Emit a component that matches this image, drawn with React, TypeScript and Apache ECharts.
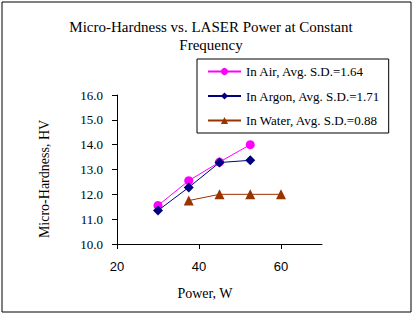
import React, { useEffect, useRef } from "react";
import * as echarts from "echarts";

const titleLines = ["Micro-Hardness vs. LASER Power at Constant", "Frequency"];
const xAxisTitle = "Power, W";
const yAxisTitle = "Micro-Hardness, HV";
const xTicks = [20, 40, 60];

const airName = "In Air, Avg. S.D.=1.64";
const airPower = [30, 37.5, 45, 52.5];
const airHardness = [11.55, 12.55, 13.3, 14.0];

const argonName = "In Argon, Avg. S.D.=1.71";
const argonPower = [30, 37.5, 45, 52.5];
const argonHardness = [11.35, 12.28, 13.28, 13.37];

const waterName = "In Water, Avg. S.D.=0.88";
const waterPower = [37.5, 45, 52.5, 60];
const waterHardness = [11.75, 12.0, 12.0, 12.0];

const pairs = (xs: number[], ys: number[]) => xs.map((x, i) => [x, ys[i]]);

const SERIF = "'Liberation Serif', 'Times New Roman', serif";
const SANS = "'Liberation Sans', Arial, sans-serif";

export default function App() {
  const ref = useRef<HTMLDivElement>(null);
  useEffect(() => {
    document.body.style.margin = "0";
    if (!ref.current) return;
    const chart = echarts.init(ref.current, undefined, { renderer: "svg" });
    chart.setOption({
      animation: false,
      backgroundColor: "#ffffff",
      title: {
        text: titleLines.join("\n"),
        left: 206,
        top: 13,
        textAlign: "center",
        textStyle: {
          fontFamily: SERIF,
          fontSize: 15,
          fontWeight: "normal",
          color: "#000000",
          lineHeight: 18,
        },
      },
      legend: {
        orient: "vertical",
        left: 197,
        top: 59,
        padding: [6, 8, 6, 10],
        itemGap: 11.5,
        itemWidth: 33,
        itemHeight: 9,
        borderColor: "#000000",
        borderWidth: 1,
        backgroundColor: "#ffffff",
        textStyle: { fontFamily: SERIF, fontSize: 13, color: "#000000" },
        data: [airName, argonName, waterName],
      },
      grid: { left: 117, right: 92, top: 95, bottom: 73 },
      xAxis: {
        type: "value",
        min: 20,
        max: 70,
        interval: 20,
        axisLine: { lineStyle: { color: "#000000", width: 1 } },
        axisTick: { show: true, length: 5, lineStyle: { color: "#000000" }, customValues: xTicks },
        axisLabel: {
          margin: 16,
          fontFamily: SANS,
          fontSize: 13,
          color: "#000000",
          customValues: xTicks,
        },
        splitLine: { show: false },
      },
      yAxis: {
        type: "value",
        min: 10,
        max: 16,
        interval: 1,
        axisLine: { show: true, lineStyle: { color: "#000000", width: 1 } },
        axisTick: { show: true, length: 5, lineStyle: { color: "#000000" } },
        axisLabel: {
          margin: 14,
          fontFamily: SERIF,
          fontSize: 13,
          color: "#000000",
          formatter: (v: number) => v.toFixed(1),
        },
        splitLine: { show: false },
      },
      graphic: [
        {
          type: "rect",
          shape: { x: 2, y: 2, width: 409, height: 310 },
          style: { fill: "none", stroke: "#000000", lineWidth: 1 },
          silent: true,
        },
        {
          type: "text",
          x: 44,
          y: 179,
          rotation: Math.PI / 2,
          style: {
            text: yAxisTitle,
            font: `14px ${SERIF}`,
            fill: "#000000",
            align: "center",
            verticalAlign: "middle",
          },
        },
        {
          type: "text",
          x: 205,
          y: 293,
          style: {
            text: xAxisTitle,
            font: `14px ${SERIF}`,
            fill: "#000000",
            align: "center",
            verticalAlign: "middle",
          },
        },
      ],
      series: [
        {
          name: airName,
          type: "line",
          data: pairs(airPower, airHardness),
          symbol: "circle",
          symbolSize: 9,
          lineStyle: { color: "#ff00ff", width: 1 },
          itemStyle: { color: "#ff00ff" },
          z: 2,
        },
        {
          name: argonName,
          type: "line",
          data: pairs(argonPower, argonHardness),
          symbol: "diamond",
          symbolSize: 10,
          lineStyle: { color: "#000080", width: 1 },
          itemStyle: { color: "#000080" },
          z: 3,
        },
        {
          name: waterName,
          type: "line",
          data: pairs(waterPower, waterHardness),
          symbol: "triangle",
          symbolSize: 10,
          lineStyle: { color: "#993300", width: 1 },
          itemStyle: { color: "#993300" },
          z: 2,
        },
      ],
    });
    return () => chart.dispose();
  }, []);
  return <div ref={ref} style={{ width: 414, height: 317 }} />;
}
